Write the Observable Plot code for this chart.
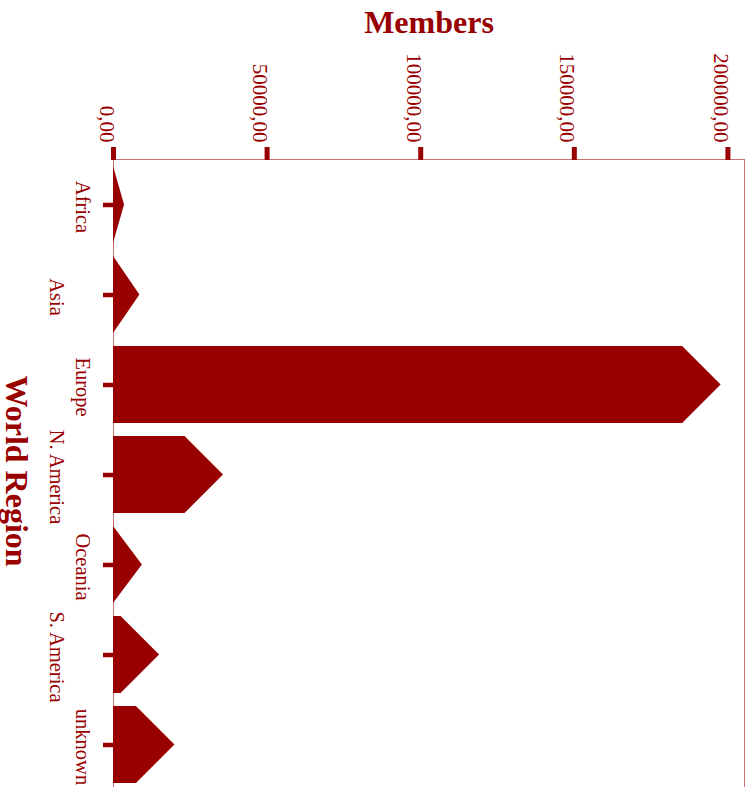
<!DOCTYPE html>
<html><head><meta charset="utf-8">
<script src="https://cdn.jsdelivr.net/npm/d3@7"></script>
<script src="https://cdn.jsdelivr.net/npm/@observablehq/plot@0.6"></script>
<style>html,body{margin:0;padding:0;overflow:hidden;background:#fff;}</style>
</head><body><div id="chart"></div>
<script>
const regions = ["Africa", "Asia", "Europe", "N. America", "Oceania", "S. America", "unknown"];
const members = [3600, 8600, 197800, 35800, 9400, 15000, 20000];
const memberTicks = [0, 50000, 100000, 150000, 200000];
const xTitle = "Members";
const yTitle = "World Region";

const data = regions.map((region, i) => ({region, members: members[i]}));
const red = "#990000";
const font = "'Liberation Serif', 'Times New Roman', serif";
const fmt = d => d.toFixed(2).replace(".", ",");

function arrowBars(index, scales, values) {
  const {x1: X1, x2: X2, y: Y} = values;
  const bw = scales.y.bandwidth();
  const g = d3.create("svg:g").attr("fill", red);
  for (const i of index) {
    const a = Math.min(X1[i], X2[i]), v = Math.max(X1[i], X2[i]);
    const top = Y[i], bot = Y[i] + bw, mid = Y[i] + bw / 2;
    const b = Math.max(a, v - bw / 2);
    g.append("path").attr("d", `M${a},${top}L${b},${top}L${v},${mid}L${b},${bot}L${a},${bot}Z`);
  }
  return g.node();
}

const chart = Plot.plot({
  width: 749, height: 800,
  marginLeft: 113, marginRight: 5, marginTop: 159, marginBottom: 10,
  style: {fontFamily: font, color: red, background: "white"},
  x: {domain: [0, 205400]},
  y: {domain: regions, paddingInner: 0.14, paddingOuter: 0.065},
  marks: [
    Plot.frame({stroke: red, strokeOpacity: 0.55}),
    Plot.barX(data, {x: "members", y: "region", fill: red, render: arrowBars}),
    Plot.axisX({anchor: "top", ticks: memberTicks, tickSize: 13, strokeWidth: 5, stroke: red, fill: "none", label: null}),
    Plot.axisY({anchor: "left", tickSize: 10, strokeWidth: 4.5, stroke: red, fill: "none", label: null}),
    Plot.text(memberTicks, {x: d => d, frameAnchor: "top", text: fmt, rotate: 90, textAnchor: "end", lineAnchor: "top", dx: 1, dy: -17, fontSize: 21, fontFamily: font, fill: red}),
    Plot.text(regions.filter((d, i) => i % 2 === 0), {y: d => d, frameAnchor: "left", text: d => d, rotate: 90, textAnchor: "middle", lineAnchor: "top", dx: -23, dy: 2, fontSize: 20.5, fontFamily: font, fill: red}),
    Plot.text(regions.filter((d, i) => i % 2 === 1), {y: d => d, frameAnchor: "left", text: d => d, rotate: 90, textAnchor: "middle", lineAnchor: "top", dx: -49.3, dy: 2, fontSize: 20.5, fontFamily: font, fill: red}),
    Plot.text([xTitle], {frameAnchor: "top", text: d => d, textAnchor: "middle", lineAnchor: "middle", fontSize: 32, fontWeight: "bold", dy: -137, fontFamily: font, fill: red}),
    Plot.text([yTitle], {frameAnchor: "left", text: d => d, rotate: 90, textAnchor: "middle", lineAnchor: "middle", fontSize: 32, fontWeight: "bold", dx: -97, dy: -4, fontFamily: font, fill: red})
  ]
});
document.getElementById("chart").appendChild(chart);
</script>
</body></html>
